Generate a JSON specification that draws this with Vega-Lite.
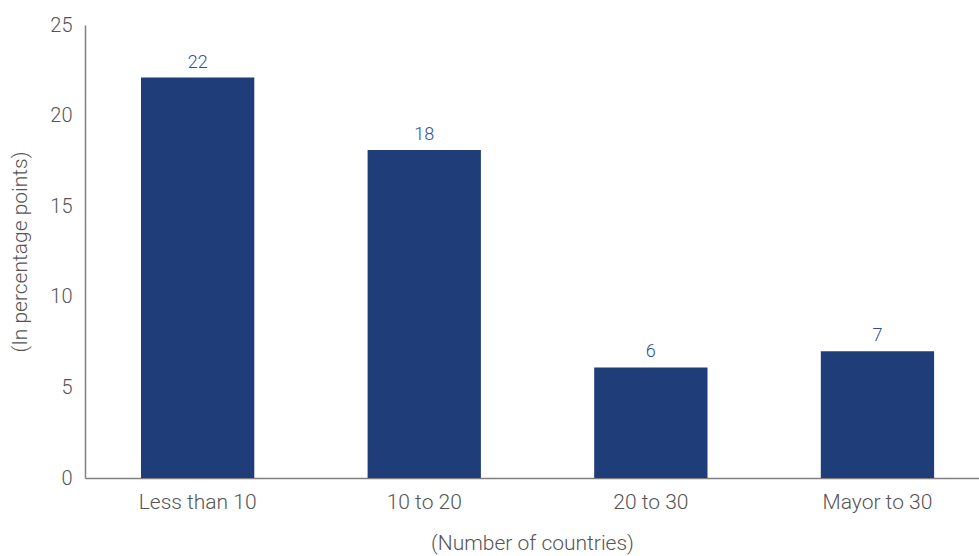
{
  "$schema": "https://vega.github.io/schema/vega-lite/v6.json",
  "autosize": "none",
  "padding": {"left": 85, "top": 25, "right": 0, "bottom": 78},
  "width": 894,
  "height": 453,
  "background": "white",
  "config": {
    "view": {"stroke": null},
    "font": "Roboto",
    "axis": {
      "labelFont": "Roboto",
      "labelFontWeight": 300,
      "labelColor": "#555555",
      "labelFontSize": 20,
      "titleFont": "Roboto",
      "titleFontWeight": 300,
      "titleColor": "#555555",
      "titleFontSize": 21,
      "domainColor": "#808080",
      "domainWidth": 1.5,
      "ticks": false,
      "grid": false
    }
  },
  "data": {
    "values": [
      {"group": "Less than 10", "value": 22.1},
      {"group": "10 to 20", "value": 18.1},
      {"group": "20 to 30", "value": 6.1},
      {"group": "Mayor to 30", "value": 7.0}
    ]
  },
  "encoding": {
    "x": {
      "field": "group",
      "type": "nominal",
      "sort": null,
      "scale": {"paddingInner": 0.5, "paddingOuter": 0.2226, "align": 0.555},
      "axis": {"title": "(Number of countries)", "labelAngle": 0, "labelFontSize": 21, "labelPadding": 13, "titlePadding": 20}
    },
    "y": {
      "field": "value",
      "type": "quantitative",
      "scale": {"domain": [0, 25], "nice": false},
      "axis": {"title": "(In percentage points)", "values": [0, 5, 10, 15, 20, 25], "labelPadding": 13, "titlePadding": 19}
    }
  },
  "layer": [
    {"mark": {"type": "bar", "color": "#1F3D78"}},
    {
      "mark": {"type": "text", "dy": -10, "baseline": "alphabetic", "fontSize": 18, "fontWeight": 300, "color": "#2E4F93"},
      "encoding": {"text": {"field": "value", "type": "quantitative", "format": ".0f"}}
    }
  ]
}
